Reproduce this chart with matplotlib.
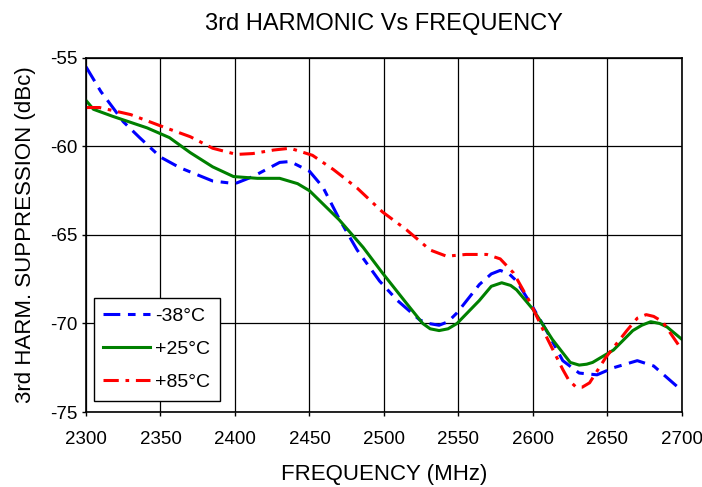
import matplotlib
matplotlib.use("Agg")
import matplotlib.pyplot as plt

plt.rcParams['font.family'] = ['Liberation Sans', 'DejaVu Sans']
plt.rcParams['axes.unicode_minus'] = False

# 读图得到的数据 (MHz, dBc)
freq_m38 = [2300, 2310, 2318, 2325, 2336, 2350, 2363, 2385, 2400, 2412, 2430, 2437, 2450,
            2459, 2470, 2482, 2497, 2509, 2524, 2530, 2537, 2543, 2549, 2564, 2572, 2578,
            2584, 2589, 2600, 2609, 2620, 2631, 2643, 2654, 2670, 2681, 2700]
val_m38 = [-55.5, -56.9, -57.8, -58.6, -59.5, -60.6, -61.2, -61.95, -62.1, -61.7, -60.9, -60.85, -61.4,
           -62.3, -64.1, -65.85, -67.6, -68.7, -69.8, -70.0, -70.1, -69.9, -69.4, -67.8, -67.2, -67.0,
           -67.2, -67.6, -69.1, -70.4, -72.1, -72.8, -72.9, -72.5, -72.1, -72.4, -73.8]

freq_p25 = [2300, 2305, 2318, 2341, 2356, 2370, 2385, 2399, 2415, 2430, 2442, 2450, 2470,
            2486, 2499, 2515, 2526, 2531, 2537, 2543, 2549, 2564, 2572, 2579, 2585, 2589,
            2600, 2613, 2625, 2631, 2636, 2640, 2654, 2667, 2673, 2679, 2685, 2690, 2700]
val_p25 = [-57.4, -57.9, -58.3, -58.95, -59.5, -60.35, -61.15, -61.7, -61.8, -61.8, -62.1, -62.5, -64.15,
           -65.7, -67.15, -68.85, -70.0, -70.3, -70.4, -70.3, -70.0, -68.7, -67.9, -67.7, -67.85, -68.1,
           -69.2, -70.9, -72.2, -72.35, -72.3, -72.2, -71.5, -70.4, -70.1, -69.9, -70.0, -70.2, -70.9]

freq_p85 = [2300, 2309, 2330, 2352, 2370, 2385, 2401, 2412, 2426, 2437, 2452, 2466, 2482,
            2499, 2515, 2531, 2542, 2555, 2569, 2578, 2587, 2598, 2609, 2620, 2624, 2629,
            2633, 2638, 2649, 2663, 2670, 2676, 2681, 2687, 2700]
val_p85 = [-57.8, -57.8, -58.2, -58.9, -59.45, -60.1, -60.45, -60.4, -60.2, -60.1, -60.5, -61.3, -62.35,
           -63.7, -64.7, -65.85, -66.2, -66.1, -66.1, -66.35, -67.15, -68.8, -70.75, -72.6, -73.2, -73.6,
           -73.6, -73.35, -71.9, -70.4, -69.7, -69.5, -69.6, -69.9, -71.5]

fig = plt.figure(figsize=(7.02, 4.87), dpi=100)
ax = fig.add_axes([0.1225, 0.154, 0.849, 0.727])

ax.plot(freq_m38, val_m38, color="#0000ff", lw=2.2, dashes=(5.5, 2.5, 2.5, 2.5), label="-38°C")
ax.plot(freq_p25, val_p25, color="#008000", lw=2.2, label="+25°C")
ax.plot(freq_p85, val_p85, color="#ff0000", lw=2.2, dashes=(5, 2.2, 1.2, 2.2), label="+85°C")

ax.set_xlim(2300, 2700)
ax.set_ylim(-75, -55)
ax.set_xticks(range(2300, 2701, 50))
ax.set_yticks(range(-75, -54, 5))
ax.grid(True, color="black", lw=0.9)
ax.tick_params(direction="out", length=3, width=1, labelsize=13.5)
ax.tick_params(axis="x", pad=11)
ax.tick_params(axis="y", pad=3)
for s in ax.spines.values():
    s.set_linewidth(1.2)

ax.set_title("3rd HARMONIC Vs FREQUENCY", fontsize=17, pad=20)
ax.set_xlabel("FREQUENCY (MHz)", fontsize=16, labelpad=11)
ax.set_ylabel("3rd HARM. SUPPRESSION (dBc)", fontsize=16, labelpad=10)

leg = ax.legend(loc="lower left", bbox_to_anchor=(0.013, 0.031), borderaxespad=0, fontsize=14,
                fancybox=False, edgecolor="black", framealpha=1, handlelength=2.4,
                labelspacing=0.8, borderpad=0.5, handletextpad=0.25)
leg.get_frame().set_linewidth(1.0)

fig.savefig("out.png", dpi=100)
